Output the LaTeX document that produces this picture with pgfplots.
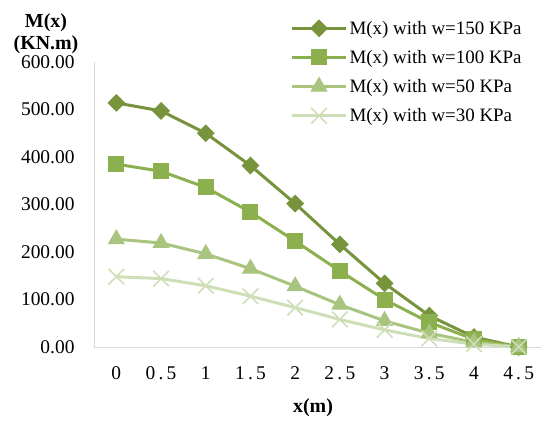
\documentclass[border=0pt]{standalone}
\usepackage{pgfplots}
\pgfplotsset{compat=1.18}
\usepackage{fontspec}
\setmainfont{Liberation Serif}

\definecolor{wA}{HTML}{77933C}
\definecolor{wB}{HTML}{8DB04F}
\definecolor{wC}{HTML}{A8C47E}
\definecolor{wD}{HTML}{CEDFB8}
\definecolor{axgray}{HTML}{D9D9D9}

% bending moment M(x) along the span, one column per load case
\pgfplotstableread{
i  w150  w100  w50  w30
0  514   385   227  148
1  497   370   219  144
2  450   336   196  129
3  382   284   165  107
4  302   223   128  83
5  216   160   89   58
6  134   100   55   36
7  66    52    29   18
8  21    16    10   6
9  0     0     0    0
}\moment

\begin{document}
\begin{tikzpicture}[x=1bp,y=1bp]
\begin{axis}[
  name=ax,
  scale only axis,
  width=447bp, height=285bp,
  xmin=-0.5, xmax=9.5,
  ymin=0, ymax=600,
  xtick={0,...,9},
  xticklabels={0,0\,.\,5,1,1\,.\,5,2,2\,.\,5,3,3\,.\,5,4,4\,.\,5},
  extra x ticks={-0.5,0.5,1.5,2.5,3.5,4.5,5.5,6.5,7.5,8.5,9.5},
  extra x tick labels={},
  extra x tick style={major tick length=5bp, tick style={axgray, line width=0.8bp}, tick align=outside},
  major x tick style={draw=none},
  ytick={0,100,...,600},
  yticklabels={0.00,100.00,200.00,300.00,400.00,500.00,600.00},
  major y tick style={draw=none},
  axis x line*=bottom,
  axis y line*=left,
  axis line style={axgray, line width=0.8bp, -},
  tick label style={font=\fontsize{19.5}{22}\selectfont, black},
  xticklabel style={yshift=-16bp},
  yticklabel style={xshift=-16bp},
  legend style={draw=none, fill=none, at={(0.437,1.155)}, anchor=north west,
    font=\fontsize{19}{21}\selectfont, row sep=10.5bp, inner sep=1bp,
    /tikz/every even column/.append style={column sep=2pt}},
  legend cell align=left,
  legend image code/.code={%
    \draw[mark repeat=2,mark phase=2,#1] plot coordinates {(0bp,0bp) (27bp,0bp) (54bp,0bp)};},
  every axis plot/.append style={line width=3bp},
  clip=false,
]
\addplot[wA, mark=square*, mark size=5.8bp, mark options={rotate=45, solid, line width=1bp}] table[x=i, y=w150] {\moment};
\addlegendentry{M(x) with w=150 KPa}
\addplot[wB, mark=square*, mark size=7.5bp, mark options={solid, line width=1bp}] table[x=i, y=w100] {\moment};
\addlegendentry{M(x) with w=100 KPa}
\addplot[wC, mark=triangle*, mark size=9bp, mark options={solid, line width=1bp}] table[x=i, y=w50] {\moment};
\addlegendentry{M(x) with w=50 KPa}
\addplot[wD, mark=x, mark size=11bp, mark options={solid, line width=1.6bp}] table[x=i, y=w30] {\moment};
\addlegendentry{M(x) with w=30 KPa}
\end{axis}
\node[font=\bfseries\fontsize{20}{22}\selectfont, align=center, anchor=north]
  at ([shift={(-48bp,52bp)}]ax.north west) {M(x)\\(KN.m)};
\node[font=\bfseries\fontsize{20}{22}\selectfont]
  at ([shift={(219bp,-61bp)}]ax.south west) {x(m)};
\pgfresetboundingbox
\path ([shift={(-94bp,-76bp)}]ax.south west) rectangle ([shift={(0bp,62bp)}]ax.north east);
\end{tikzpicture}
\end{document}
